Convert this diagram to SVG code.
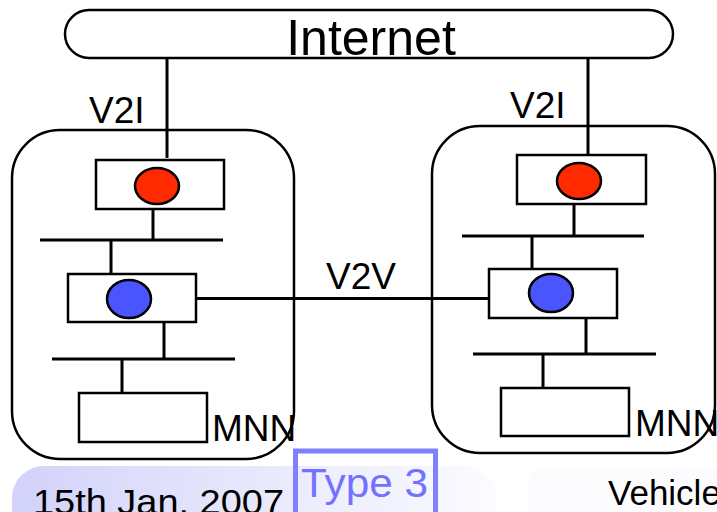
<svg xmlns="http://www.w3.org/2000/svg" width="717" height="512" viewBox="0 0 717 512">
  <defs>
    <linearGradient id="footerFade" x1="0" y1="0" x2="1" y2="0">
      <stop offset="0" stop-color="#d2d2fb"/>
      <stop offset="0.6" stop-color="#ececfd"/>
      <stop offset="1" stop-color="#fbfbff"/>
    </linearGradient>
  </defs>
  <style>
    .txt { font-family: "Liberation Sans", Arial, sans-serif; fill: #000; }
    .vehicle { fill: none; stroke: #000; stroke-width: 2.5; }
    .box { fill: #fff; stroke: #000; stroke-width: 2.5; }
    .wire { fill: none; stroke: #000; stroke-width: 3; }
    .mr { fill: #ff2a00; stroke: #000; stroke-width: 2.5; }
    .mnr { fill: #4a55ff; stroke: #000; stroke-width: 2.5; }
  </style>
  <rect width="717" height="512" fill="#fff"/>

  <!-- footer band -->
  <g id="footer">
    <rect x="12" y="466" width="484" height="80" rx="32" fill="url(#footerFade)"/>
    <rect x="527" y="466" width="200" height="80" rx="20" fill="#fcfcff"/>
    <text class="txt" x="33" y="514" font-size="35" textLength="251" lengthAdjust="spacingAndGlyphs">15th Jan. 2007</text>
    <text class="txt" x="608" y="505" font-size="35">Vehicle</text>
  </g>

  <!-- connectors -->
  <g id="connectors">
    <line class="wire" x1="167" y1="58" x2="167" y2="158"/>
    <line class="wire" x1="588" y1="58" x2="588" y2="155"/>
    <line class="wire" x1="193" y1="298.5" x2="489" y2="298.5"/>
  </g>

  <!-- Internet -->
  <g id="internet">
    <rect x="65" y="10" width="608" height="48" rx="24" fill="#fff" stroke="#000" stroke-width="2.5"/>
    <text class="txt" x="371" y="55" font-size="50" text-anchor="middle">Internet</text>
  </g>

  <!-- left vehicle -->
  <g id="vehicle-left">
    <rect class="vehicle" x="12" y="130" width="282" height="329" rx="48"/>
    <line class="wire" x1="153" y1="209" x2="153" y2="240"/>
    <line class="wire" x1="40" y1="240" x2="223" y2="240"/>
    <line class="wire" x1="111" y1="240" x2="111" y2="276"/>
    <line class="wire" x1="164" y1="322" x2="164" y2="359"/>
    <line class="wire" x1="52" y1="359" x2="235" y2="359"/>
    <line class="wire" x1="122" y1="359" x2="122" y2="395"/>
    <g id="mr-left">
      <rect class="box" x="96" y="160" width="128" height="49"/>
      <ellipse class="mr" cx="157" cy="186" rx="22" ry="18"/>
    </g>
    <g id="mnr-left">
      <rect class="box" x="68" y="274" width="128" height="48"/>
      <ellipse class="mnr" cx="129" cy="299" rx="22" ry="19"/>
    </g>
    <g id="mnn-left">
      <rect class="box" x="79" y="393" width="128" height="49"/>
      <text class="txt" x="212" y="441" font-size="37">MNN</text>
    </g>
  </g>

  <!-- right vehicle -->
  <g id="vehicle-right">
    <rect class="vehicle" x="432" y="126" width="283" height="327" rx="48"/>
    <line class="wire" x1="574" y1="204" x2="574" y2="236"/>
    <line class="wire" x1="462" y1="236" x2="644" y2="236"/>
    <line class="wire" x1="532" y1="236" x2="532" y2="272"/>
    <line class="wire" x1="586" y1="318" x2="586" y2="354"/>
    <line class="wire" x1="473" y1="354" x2="656" y2="354"/>
    <line class="wire" x1="543" y1="354" x2="543" y2="390"/>
    <g id="mr-right">
      <rect class="box" x="517" y="155" width="129" height="49"/>
      <ellipse class="mr" cx="579" cy="181" rx="22" ry="18"/>
    </g>
    <g id="mnr-right">
      <rect class="box" x="489" y="269" width="128" height="49"/>
      <ellipse class="mnr" cx="551" cy="293" rx="22" ry="19"/>
    </g>
    <g id="mnn-right">
      <rect class="box" x="501" y="388" width="128" height="48"/>
      <text class="txt" x="635" y="436" font-size="37">MNN</text>
    </g>
  </g>

  <!-- link labels -->
  <g id="labels">
    <text class="txt" x="89" y="123" font-size="37">V2I</text>
    <text class="txt" x="510" y="118" font-size="37">V2I</text>
    <text class="txt" x="326" y="289" font-size="37">V2V</text>
  </g>

  <!-- type tag -->
  <g id="type-tag">
    <rect x="295.5" y="451" width="140" height="80" fill="none" stroke="#8080ff" stroke-width="5"/>
    <text x="301" y="497" font-family="Liberation Sans, Arial, sans-serif" font-size="40" fill="#7272ff" textLength="127" lengthAdjust="spacingAndGlyphs">Type 3</text>
  </g>
</svg>
